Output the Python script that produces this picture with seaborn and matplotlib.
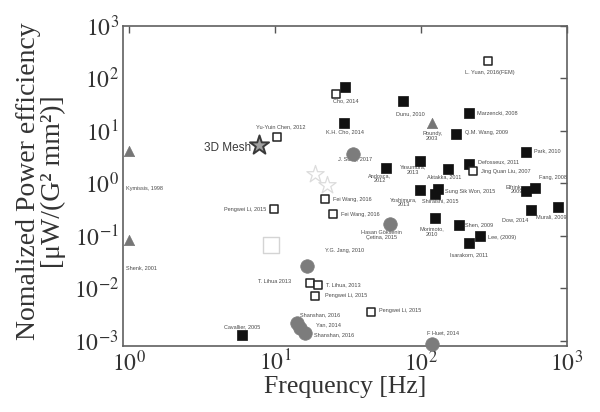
import numpy as np
import pandas as pd
import matplotlib
matplotlib.use("Agg")
import matplotlib.pyplot as plt
from matplotlib.ticker import NullLocator
import seaborn as sns

# ---------------- data ----------------
filled_freq = [30.2, 29.7, 75.6, 213, 174, 530, 213, 57.6, 98.4, 154, 604, 524,
               98.4, 131, 125, 567, 872, 125, 183, 254, 213, 5.97]
filled_eff = [68.3, 14.1, 36.5, 22.2, 8.85, 3.95, 2.30, 1.97, 2.62, 1.85, 0.83, 0.70,
              0.736, 0.769, 0.617, 0.315, 0.354, 0.222, 0.163, 0.098, 0.073, 0.00126]
filled_labels = ["Cho, 2014", "K.H. Cho, 2014", "Dunu, 2010", "Marzencki, 2008",
                 "Q.M. Wang, 2009", "Park, 2010", "Defosseux, 2011", "Andosca,\n2012",
                 "Yasumura,\n2013", "Aktakka, 2011", "Fang, 2008", "Elfrink,\n2009",
                 "Yoshimura,\n2013", "Sung Sik Won, 2015", "Shiraishi, 2015", "Dow, 2014",
                 "Murali, 2009", "Morimoto,\n2010", "Shen, 2009", "Lee, (2009)",
                 "Isarakorn, 2011", "Cavallier, 2005"]

open_freq = [289, 26.1, 10.4, 228, 9.89, 22.0, 24.9, 17.4, 19.6, 18.9, 45.9]
open_eff = [211, 51.2, 7.62, 1.69, 0.316, 0.496, 0.254, 0.0126, 0.0117, 0.00713, 0.00354]
open_labels = ["L. Yuan, 2016(FEM)", "", "Yu-Yuin Chen, 2012", "Jing Quan Liu, 2007",
               "Pengwei Li, 2015", "Fei Wang, 2016", "Fei Wang, 2016", "T. Lihua 2013",
               "T. Lihua, 2013", "Pengwei Li, 2015", "Pengwei Li, 2015"]

circle_freq = [34.4, 61.3, 16.7, 14.1, 14.8, 16.0, 119.5]
circle_eff = [3.68, 0.166, 0.0266, 0.00213, 0.00175, 0.00141, 0.00085]
circle_labels = ["J. Song, 2017", "Hasan Göksenin\nÇetina, 2015", "Y.G. Jang, 2010",
                 "Shanshan, 2016", "Yan, 2014", "Shanshan, 2016", "F Huet, 2014"]

tri_freq = [1.0, 1.0, 120]
tri_eff = [4.07, 0.082, 14.1]
tri_labels = ["Kymissis, 1998", "Shenk, 2001", "Roundy,\n2003"]

star_freq = [7.8]
star_eff = [5.3]
star_labels = ["3D Mesh"]

faint_star_freq = [18.8, 22.6]
faint_star_eff = [1.53, 0.94]
faint_sq_freq = [9.34]
faint_sq_eff = [0.066]

x_ticks = [1, 10, 100, 1000]
x_ticklabels = ["$10^{0}$", "$10^{1}$", "$10^{2}$", "$10^{3}$"]
y_ticks = [1e-3, 1e-2, 1e-1, 1, 10, 100, 1000]
y_ticklabels = ["$10^{-3}$", "$10^{-2}$", "$10^{-1}$", "$10^{0}$", "$10^{1}$",
                "$10^{2}$", "$10^{3}$"]

# label placements (offset pixels: dx, dy downward, alignment)
filled_pos = [(1, 14, "center"), (1, 9, "center"), (7, 12, "center"), (8, 0, "left"),
              (9, -1, "left"), (8, -1, "left"), (9, -3, "left"), (-6, 10.5, "center"),
              (-7, 8.5, "center"), (-4, 8, "center"), (4, -10, "left"), (-3, -2, "right"),
              (-16, 12, "center"), (7, 2, "left"), (5, 7, "center"), (-16, 10, "center"),
              (-7, 10, "center"), (-3, 14, "center"), (6, 0, "left"), (8, 1, "left"),
              (0, 12, "center"), (0, -9, "center")]
open_pos = [(2, 11, "center"), (0, 0, "center"), (3, -10, "center"), (8, 0, "left"),
            (-8, 0, "right"), (8, 0, "left"), (8, 0, "left"), (-19, -1, "right"),
            (8, 0, "left"), (10, 0, "left"), (8, -1, "left")]
circle_pos = [(2, 6, "center"), (-8, 11, "center"), (37, -15, "center"), (3, -9, "left"),
              (16, -3, "left"), (9, 2, "left"), (-5, -11, "left")]
tri_pos = [(-3, 37, "left"), (-3, 28, "left"), (0, 13, "center")]

# ---------------- style ----------------
sns.set_style("white")
plt.rcParams["font.family"] = ["Liberation Serif", "DejaVu Serif"]
plt.rcParams["mathtext.fontset"] = "stix"

fig = plt.figure(figsize=(6.0, 4.12), dpi=100)
ax = fig.add_axes([0.205, 0.160, 0.7395, 0.777])
ax.set_xscale("log")
ax.set_yscale("log")

common = dict(ax=ax, clip_on=False, legend=False)
sns.scatterplot(x=faint_star_freq, y=faint_star_eff, marker="*", s=170,
                color="white", edgecolor="#dcdcdc", linewidth=0.9, zorder=2, **common)
sns.scatterplot(x=faint_sq_freq, y=faint_sq_eff, marker="s", s=120,
                color="white", edgecolor="#d4d4d4", linewidth=1.0, zorder=2, **common)
sns.scatterplot(x=filled_freq, y=filled_eff, marker="s", s=44,
                color="#111111", edgecolor="#111111", linewidth=0.5, zorder=4, **common)
sns.scatterplot(x=open_freq, y=open_eff, marker="s", s=38,
                color="white", edgecolor="#222222", linewidth=1.1, zorder=4, **common)
sns.scatterplot(x=circle_freq, y=circle_eff, marker="o", s=95,
                color="#7c7c7c", edgecolor="#7c7c7c", linewidth=0.5, zorder=4, **common)
sns.scatterplot(x=tri_freq, y=tri_eff, marker="^", s=55,
                color="#767676", edgecolor="#767676", linewidth=0.5, zorder=4, **common)
sns.scatterplot(x=star_freq, y=star_eff, marker="*", s=210,
                color="#a0a0a0", edgecolor="#3a3a3a", linewidth=1.4, zorder=5, **common)


def put_labels(xs, ys, labels, positions, size=4.0):
    for x, y, lab, (dx, dy, ha) in zip(xs, ys, labels, positions):
        if not lab:
            continue
        ax.annotate(lab, (x, y), xytext=(dx, -dy), textcoords="offset pixels",
                    ha=ha, va="center", fontsize=size, color="#4a4a4a",
                    family=["Liberation Sans", "DejaVu Sans"], linespacing=1.05,
                    zorder=3, annotation_clip=False)


put_labels(filled_freq, filled_eff, filled_labels, filled_pos)
put_labels(open_freq, open_eff, open_labels, open_pos)
put_labels(circle_freq, circle_eff, circle_labels, circle_pos)
put_labels(tri_freq, tri_eff, tri_labels, tri_pos)
ax.annotate(star_labels[0], (star_freq[0], star_eff[0]), xytext=(-8, -3),
            textcoords="offset pixels", ha="right", va="center", fontsize=8.5,
            color="#3a3a3a", family=["Liberation Sans", "DejaVu Sans"], zorder=3)

ax.set_xlim(0.91, 1000)
ax.set_ylim(7.85e-4, 1000)
ax.set_xticks(x_ticks)
ax.set_xticklabels(x_ticklabels)
ax.set_yticks(y_ticks)
ax.set_yticklabels(y_ticklabels)
ax.xaxis.set_minor_locator(NullLocator())
ax.yaxis.set_minor_locator(NullLocator())
ax.tick_params(which="major", direction="in", length=5, width=1.0, top=True,
               right=True, labelsize=17, color="#555555", labelcolor="#333333", pad=3)

for sp in ax.spines.values():
    sp.set_color("#606060")
    sp.set_linewidth(1.2)

ax.set_xlabel("Frequency [Hz]", fontsize=18.5, color="#333333", labelpad=0)
ax.set_ylabel("Nomalized Power efficiency\n[μW/(G² mm²)]", fontsize=20,
              color="#333333", linespacing=0.95, va="center", ha="center")
ax.yaxis.set_label_coords(-0.185, 0.515)

fig.savefig("out.png", dpi=100)
